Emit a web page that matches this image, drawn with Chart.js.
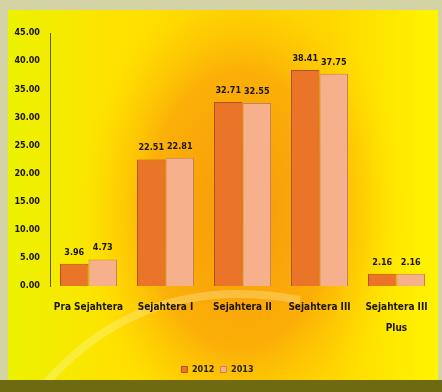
<!DOCTYPE html>
<html>
<head>
<meta charset="utf-8">
<script src="https://cdn.jsdelivr.net/npm/chart.js@4.4.1/dist/chart.umd.min.js"></script>
<style>
  html, body { margin: 0; padding: 0; background: #d3d3a6; }
  #wrap { width: 442px; height: 392px; position: relative; }
</style>
</head>
<body>
<div id="wrap"><canvas id="chart" width="442" height="392"></canvas></div>
<script>
const categories = [['Pra Sejahtera'], ['Sejahtera I'], ['Sejahtera II'], ['Sejahtera III'], ['Sejahtera III', 'Plus']];
const years = ['2012', '2013'];
const values2012 = [3.96, 22.51, 32.71, 38.41, 2.16];
const values2013 = [4.73, 22.81, 32.55, 37.75, 2.16];
const yTicks = [0, 5, 10, 15, 20, 25, 30, 35, 40, 45];

const FONT = '"Liberation Sans Narrow", "DejaVu Sans Condensed", "Liberation Sans", sans-serif';

// frame, yellow panel and orange swoosh behind the chart
const backdrop = {
    id: 'backdrop',
    beforeDraw(chart) {
        const c = chart.ctx;
        const w = chart.width, h = chart.height;
        c.save();
        c.fillStyle = '#d3d3a6';
        c.fillRect(0, 0, w, h);

        const x0 = 8, y0 = 10, x1 = w - 4, y1 = h - 12;
        let g = c.createLinearGradient(x0, 0, x1, 0);
        g.addColorStop(0, '#ecf200');
        g.addColorStop(0.25, '#ffe200');
        g.addColorStop(0.75, '#ffd800');
        g.addColorStop(1, '#fff400');
        c.fillStyle = g;
        c.fillRect(x0, y0, x1 - x0, y1 - y0);

        c.beginPath();
        c.rect(x0, y0, x1 - x0, y1 - y0);
        c.clip();

        // broad orange swoosh, stretched vertically
        c.save();
        c.translate(240, 210);
        c.scale(0.85, 1.3);
        let r = c.createRadialGradient(0, 0, 5, 0, 0, 190);
        r.addColorStop(0, 'rgba(246,146,12,0.9)');
        r.addColorStop(0.55, 'rgba(250,160,10,0.75)');
        r.addColorStop(0.8, 'rgba(253,190,5,0.4)');
        r.addColorStop(1, 'rgba(255,220,0,0)');
        c.fillStyle = r;
        c.fillRect(-300, -250, 600, 500);
        c.restore();

        // faint light band sweeping up from the lower left
        c.strokeStyle = 'rgba(255,250,190,0.3)';
        c.lineWidth = 8;
        c.beginPath();
        c.moveTo(40, 390);
        c.quadraticCurveTo(140, 270, 300, 300);
        c.stroke();
        c.restore();

        c.fillStyle = '#6e6a12';
        c.fillRect(0, h - 12, w, 12);
    }
};

// value labels above each bar
const barValues = {
    id: 'barValues',
    afterDatasetsDraw(chart) {
        const c = chart.ctx;
        c.save();
        c.font = 'bold 9px ' + FONT;
        c.fillStyle = '#1a1400';
        c.textAlign = 'center';
        c.textBaseline = 'bottom';
        chart.data.datasets.forEach((ds, i) => {
            chart.getDatasetMeta(i).data.forEach((bar, j) => {
                c.fillText(ds.data[j].toFixed(2), bar.x, bar.y - 7);
            });
        });
        c.restore();
    }
};

new Chart(document.getElementById('chart'), {
    type: 'bar',
    data: {
        labels: categories,
        datasets: [
            {
                label: years[0],
                data: values2012,
                backgroundColor: '#ea7428',
                borderColor: '#b2521a',
                borderWidth: 1,
                categoryPercentage: 0.74,
                barPercentage: 1.0
            },
            {
                label: years[1],
                data: values2013,
                backgroundColor: '#f6b08c',
                borderColor: '#c88060',
                borderWidth: 1,
                categoryPercentage: 0.74,
                barPercentage: 1.0
            }
        ]
    },
    options: {
        responsive: false,
        animation: false,
        layout: { padding: { left: 0, right: 7, top: 33, bottom: 8 } },
        plugins: {
            legend: {
                position: 'bottom',
                labels: {
                    boxWidth: 6,
                    boxHeight: 6,
                    padding: 6,
                    color: '#2a2200',
                    font: { family: FONT, size: 9, weight: 'bold' }
                }
            },
            tooltip: { enabled: false }
        },
        scales: {
            x: {
                grid: { display: false, drawTicks: false },
                border: { display: false },
                ticks: {
                    color: '#1a1400',
                    padding: 11,
                    maxRotation: 0,
                    font: { family: FONT, size: 10, weight: 'bold', lineHeight: 2.1 }
                },
                afterFit(scale) { scale.height = 73; }
            },
            y: {
                min: 0,
                max: 45,
                afterBuildTicks(scale) { scale.ticks = yTicks.map(v => ({ value: v })); },
                grid: { display: false, drawTicks: false },
                border: { display: true, color: '#5a5a10', width: 1 },
                ticks: {
                    color: '#1a1400',
                    padding: 10,
                    callback: v => v.toFixed(2),
                    font: { family: FONT, size: 9, weight: 'bold' }
                },
                afterFit(scale) { scale.width = 50; }
            }
        }
    },
    plugins: [backdrop, barValues]
});
</script>
</body>
</html>
